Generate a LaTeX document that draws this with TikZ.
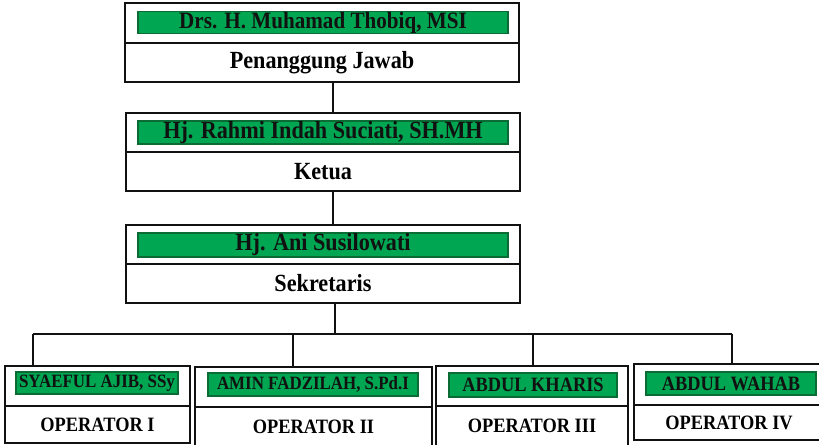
\documentclass[tikz,border=0pt]{standalone}
\usepackage{fontspec}
\setmainfont[FakeStretch=0.9]{Liberation Serif}
\definecolor{ink}{HTML}{111111}
\definecolor{bargreen}{HTML}{00A651}
\definecolor{baredge}{HTML}{0B6B34}

\begin{document}
\begin{tikzpicture}[x=0.75pt,y=-0.75pt,
  sized/.style 2 args={minimum width={#1*0.75pt},minimum height={#2*0.75pt}},
  panel/.style={draw=ink,line width=1.5pt,inner sep=0pt,fill=white},
  namebar/.style={draw=baredge,line width=.9pt,fill=bargreen,inner sep=0pt,text=ink,font=\bfseries\fontsize{18.5}{20}\selectfont},
  smallbar/.style={namebar,font=\bfseries\fontsize{15.3}{17}\selectfont},
  tightbar/.style={namebar,font=\bfseries\fontsize{14.1}{16}\selectfont},
  role/.style={panel,font=\bfseries\fontsize{18.5}{20}\selectfont},
  smallrole/.style={panel,font=\bfseries\fontsize{15.3}{17}\selectfont},
  link/.style={draw=ink,line width=1.5pt}]
  \useasboundingbox (0,0) rectangle (819,444);
  \begin{scope}
  \clip (0,0) rectangle (819,444);
  % top: penanggung jawab
  \node[panel,sized={394}{40}] (pjtop) at (322,23) {};
  \node[namebar,sized={370}{21},font=\bfseries\fontsize{17.6}{20}\selectfont] (thobiq) at (323,22.5) {Drs. H. Muhamad Thobiq, MSI};
  \node[role,sized={394}{39}] (pj) at (322,62.5) {Penanggung Jawab};
  % ketua
  \node[panel,sized={394}{39}] (ketop) at (323,132.5) {};
  \node[namebar,sized={370}{23}] (rahmi) at (323,132.5) {Hj. Rahmi Indah Suciati, SH.MH};
  \node[role,sized={394}{39}] (ketua) at (323,171.5) {Ketua};
  % sekretaris
  \node[panel,sized={394}{39}] (sektop) at (323,244.5) {};
  \node[namebar,sized={370}{24}] (ani) at (323,245) {Hj. Ani Susilowati};
  \node[role,sized={394}{39}] (sek) at (323,283.5) {Sekretaris};
  % operators
  \node[panel,sized={185}{40}] (opAtop) at (97.5,386) {};
  \node[tightbar,sized={162}{22}] (syaeful) at (97,383) {SYAEFUL AJIB, SSy};
  \node[smallrole,sized={185}{37}] (opA) at (97.5,424.5) {OPERATOR I};
  \node[panel,sized={237}{40}] (opBtop) at (313.5,387) {};
  \node[tightbar,sized={210}{23}] (amin) at (313,384.5) {AMIN FADZILAH, S.Pd.I};
  \node[smallrole,sized={237}{40}] (opB) at (313.5,427) {OPERATOR II};
  \node[panel,sized={192}{40}] (opCtop) at (532,386) {};
  \node[smallbar,sized={168}{24}] (kharis) at (533,385) {ABDUL KHARIS};
  \node[smallrole,sized={192}{40}] (opC) at (532,426) {OPERATOR III};
  \node[panel,sized={190}{41}] (opDtop) at (729,384.5) {};
  \node[smallbar,sized={170}{23}] (wahab) at (731,383.5) {ABDUL WAHAB};
  \node[smallrole,sized={190}{35}] (opD) at (729,422.5) {OPERATOR IV};
  % connectors
  \coordinate (spine) at (333,0);
  \coordinate (spineB) at (335,0);
  \coordinate (bus) at (0,334);
  \coordinate (dropA) at (33,0);
  \coordinate (dropB) at (293,0);
  \coordinate (dropC) at (533,0);
  \coordinate (dropD) at (732,0);
  \draw[link] (pj.south -| spine) -- (ketop.north -| spine);
  \draw[link] (ketua.south -| spine) -- (sektop.north -| spine);
  \draw[link] (sek.south -| spineB) -- (bus -| spineB);
  \draw[link] (bus -| dropA) -- (bus -| dropD);
  \draw[link] (bus -| dropA) -- (opAtop.north -| dropA);
  \draw[link] (bus -| dropB) -- (opBtop.north -| dropB);
  \draw[link] (bus -| dropC) -- (opCtop.north -| dropC);
  \draw[link] (bus -| dropD) -- (opDtop.north -| dropD);
  \end{scope}
\end{tikzpicture}
\end{document}
